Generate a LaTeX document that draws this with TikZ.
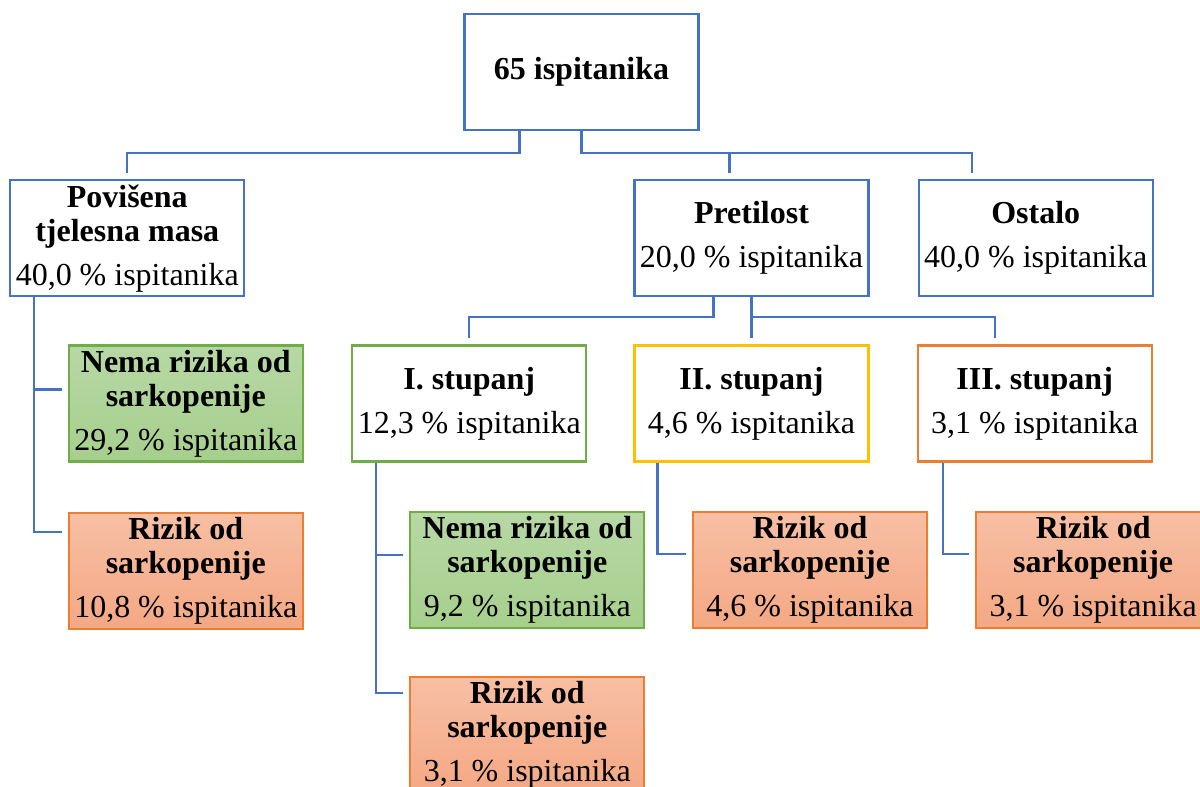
\documentclass[tikz,border=0pt]{standalone}
\usepackage{fontspec}
\setmainfont{Liberation Serif}
\usetikzlibrary{positioning}
\definecolor{officeBlue}{HTML}{4472C4}
\definecolor{officeGreen}{HTML}{70AD47}
\definecolor{officeYellow}{HTML}{FFC000}
\definecolor{officeOrange}{HTML}{ED7D31}
\definecolor{greenTop}{HTML}{B7D8A5}
\definecolor{greenBottom}{HTML}{A6CF8C}
\definecolor{orangeTop}{HTML}{F7BFA4}
\definecolor{orangeBottom}{HTML}{F4A884}
\tikzstyle{box} = [draw, line width=1.1pt, minimum width=117pt, minimum height=58pt, inner sep=0pt, align=center, font=\fontsize{16}{17}\selectfont]
\tikzstyle{group} = [box, draw=officeBlue]
\tikzstyle{gradeI} = [box, draw=officeGreen]
\tikzstyle{gradeII} = [box, draw=officeYellow]
\tikzstyle{gradeIII} = [box, draw=officeOrange]
\tikzstyle{norisk} = [box, draw=officeGreen, top color=greenTop, bottom color=greenBottom]
\tikzstyle{risk} = [box, draw=officeOrange, top color=orangeTop, bottom color=orangeBottom]
\tikzstyle{link} = [draw=officeBlue, line width=1.1pt, shorten >=3pt]

\begin{document}
\begin{tikzpicture}
	\useasboundingbox (-290.75pt,-357.5pt) rectangle (309.25pt,36pt);
	
	\node[group] (total) at (0,0) {\textbf{65 ispitanika}};
	\node[group, below = 24pt of total, xshift=85pt] (obesity) {\textbf{Pretilost}\\[5pt]20,0 \% ispitanika};
	\node[group, right = 24pt of obesity] (other) {\textbf{Ostalo}\\[5pt]40,0 \% ispitanika};
	\node[group, left = 194pt of obesity] (overweight) {\textbf{Povišena}\\\textbf{tjelesna masa}\\[5pt]40,0 \% ispitanika};
	\node[gradeII, below = 23.5pt of obesity] (stageII) {\textbf{II. stupanj}\\[5pt]4,6 \% ispitanika};
	\node[gradeI, left = 23pt of stageII] (stageI) {\textbf{I. stupanj}\\[5pt]12,3 \% ispitanika};
	\node[gradeIII, right = 23.5pt of stageII] (stageIII) {\textbf{III. stupanj}\\[5pt]3,1 \% ispitanika};
	\node[norisk, below = 23.5pt of overweight, xshift=29.25pt] (noRiskA) {\textbf{Nema rizika od}\\\textbf{sarkopenije}\\[5pt]29,2 \% ispitanika};
	\node[risk, below = 24.5pt of noRiskA] (riskA) {\textbf{Rizik od}\\\textbf{sarkopenije}\\[5pt]10,8 \% ispitanika};
	\node[norisk, below = 24pt of stageI, xshift=29pt] (noRiskB) {\textbf{Nema rizika od}\\\textbf{sarkopenije}\\[5pt]9,2 \% ispitanika};
	\node[risk, below = 23.5pt of noRiskB] (riskB) {\textbf{Rizik od}\\\textbf{sarkopenije}\\[5pt]3,1 \% ispitanika};
	\node[risk, below = 24pt of stageII, xshift=29.25pt] (riskC) {\textbf{Rizik od}\\\textbf{sarkopenije}\\[5pt]4,6 \% ispitanika};
	\node[risk, below = 24pt of stageIII, xshift=29.25pt] (riskD) {\textbf{Rizik od}\\\textbf{sarkopenije}\\[5pt]3,1 \% ispitanika};
	
	\path[link] ([xshift=-31pt]total.south) -- ++(0,-11pt) -| (overweight.north);
	\path[link] (total.south) -- ++(0,-11pt) -| ([xshift=-32pt]other.north);
	\path[link] (total.south) ++(0,-11pt) -| ([xshift=-11pt]obesity.north);
	\path[link] ([xshift=-19pt]obesity.south) -- ++(0,-10pt) -| (stageI.north);
	\path[link] (obesity.south) -- (stageII.north);
	\path[link] (obesity.south) ++(0,-10pt) -| ([xshift=-20pt]stageIII.north);
	\path[link] ([xshift=-46.5pt]overweight.south) |- ([yshift=7pt]noRiskA.west);
	\path[link] ([xshift=-46.5pt]overweight.south) |- ([yshift=19.5pt]riskA.west);
	\path[link] ([xshift=-46.5pt]stageI.south) |- ([yshift=7.5pt]noRiskB.west);
	\path[link] ([xshift=-46.5pt]stageI.south) |- ([yshift=21pt]riskB.west);
	\path[link] ([xshift=-47pt]stageII.south) |- ([yshift=8pt]riskC.west);
	\path[link] ([xshift=-46pt]stageIII.south) |- ([yshift=8pt]riskD.west);
\end{tikzpicture}
\end{document}
